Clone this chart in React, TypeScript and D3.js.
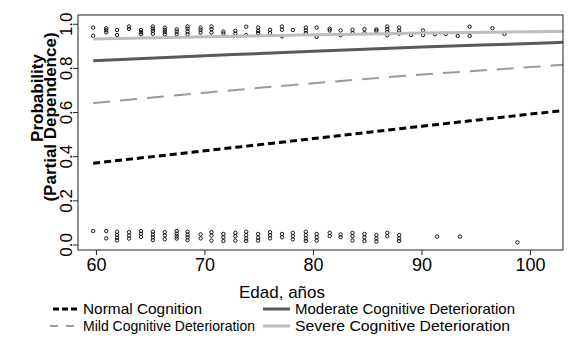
import React, { useEffect, useRef } from 'react';
import * as d3 from 'd3';

// x axis (age) and y axis (probability)
const ageTicks = [60, 70, 80, 90, 100];
const probTicks = [0, 0.2, 0.4, 0.6, 0.8, 1.0];

// partial dependence curves, read at these ages
const curveAges = [59.7, 70, 80, 90, 100, 103.5];
const normalCurve = [0.37, 0.427, 0.482, 0.538, 0.593, 0.612];
const mildCurve = [0.643, 0.69, 0.733, 0.772, 0.806, 0.818];
const moderateCurve = [0.835, 0.857, 0.878, 0.897, 0.913, 0.919];
const severeCurve = [0.933, 0.943, 0.952, 0.96, 0.966, 0.969];

// observed outcomes (jittered) near 1: [age, values]
const topBand: [number, number[]][] = [
  [59.7, [0.985, 0.948]],
  [60.9, [0.982, 0.973, 0.964]],
  [61.9, [0.974, 0.951]],
  [63.0, [0.99, 0.979]],
  [64.1, [0.974, 0.964, 0.955]],
  [65.2, [0.99, 0.98, 0.97, 0.957]],
  [66.3, [0.985, 0.975, 0.965, 0.955]],
  [67.4, [0.977, 0.967, 0.955]],
  [68.4, [0.99, 0.98, 0.967, 0.955]],
  [69.6, [0.985, 0.975, 0.962]],
  [70.6, [0.99, 0.978, 0.962]],
  [71.7, [0.967, 0.958]],
  [72.8, [0.97, 0.958]],
  [73.8, [0.989, 0.951]],
  [74.9, [0.985, 0.97, 0.96]],
  [76.0, [0.975, 0.96]],
  [77.1, [0.99, 0.975, 0.945]],
  [78.1, [0.974]],
  [79.3, [0.985, 0.972, 0.96]],
  [80.3, [0.985, 0.943]],
  [81.5, [0.98, 0.972]],
  [82.5, [0.972, 0.95]],
  [83.6, [0.975, 0.96]],
  [84.7, [0.978, 0.96]],
  [85.8, [0.977, 0.97]],
  [86.8, [0.99, 0.978, 0.965, 0.95]],
  [87.9, [0.985, 0.97, 0.958]],
  [89.0, [0.951]],
  [90.1, [0.972, 0.951]],
  [91.2, [0.955]],
  [92.2, [0.956]],
  [93.3, [0.947]],
  [94.4, [0.989, 0.947]],
  [96.5, [0.982]],
  [97.6, [0.956]],
];

// observed outcomes (jittered) near 0
const bottomBand: [number, number[]][] = [
  [59.7, [0.063]],
  [60.9, [0.063, 0.03]],
  [61.9, [0.06, 0.045, 0.033, 0.021]],
  [63.0, [0.058, 0.043, 0.029]],
  [64.1, [0.063, 0.051, 0.036]],
  [65.2, [0.06, 0.047, 0.035, 0.022]],
  [66.3, [0.058, 0.043, 0.026]],
  [67.4, [0.063, 0.051, 0.039, 0.029]],
  [68.4, [0.06, 0.047, 0.035, 0.022]],
  [69.6, [0.048, 0.03]],
  [70.6, [0.058, 0.043, 0.02]],
  [71.7, [0.05, 0.035, 0.018]],
  [72.8, [0.055, 0.04, 0.02]],
  [73.8, [0.06, 0.045, 0.03, 0.018]],
  [74.9, [0.05, 0.033, 0.02]],
  [76.0, [0.058, 0.045, 0.03]],
  [77.1, [0.05, 0.035]],
  [78.1, [0.055, 0.04, 0.025]],
  [79.3, [0.06, 0.045, 0.03, 0.018]],
  [80.3, [0.05, 0.035, 0.02]],
  [81.5, [0.055, 0.04]],
  [82.5, [0.048, 0.035]],
  [83.6, [0.055, 0.04, 0.02]],
  [84.7, [0.05, 0.035, 0.018]],
  [85.8, [0.045, 0.03, 0.016]],
  [86.8, [0.055, 0.04]],
  [87.9, [0.045, 0.03, 0.018]],
  [91.4, [0.038]],
  [93.5, [0.038]],
  [98.8, [0.012]],
];

const seriesNames = [
  'Normal Cognition',
  'Mild Cognitive Deterioration',
  'Moderate Cognitive Deterioration',
  'Severe Cognitive Deterioration',
];

const App = () => {
  const chartRef = useRef<SVGSVGElement>(null);

  useEffect(() => {
    document.body.style.margin = '0';

    const width = 587;
    const height = 340;
    const left = 78;
    const right = 563;
    const top = 15;
    const bottom = 250;
    const font = '"Liberation Sans", Arial, Helvetica, sans-serif';

    const x = d3.scaleLinear().domain([58.3, 103.0]).range([left, right]);
    const y = d3.scaleLinear().domain([-0.0227, 1.042]).range([bottom, top]);

    const svg = d3.select(chartRef.current)
      .attr('width', width)
      .attr('height', height)
      .style('display', 'block');

    svg.selectAll('*').remove();

    svg.append('rect').attr('width', width).attr('height', height).attr('fill', '#fff');

    svg.append('clipPath').attr('id', 'plotclip')
      .append('rect')
      .attr('x', left).attr('y', top)
      .attr('width', right - left).attr('height', bottom - top);

    // points
    const pts: [number, number][] = [];
    [...topBand, ...bottomBand].forEach(([age, vals]) => {
      vals.forEach(v => pts.push([age, v]));
    });
    svg.append('g')
      .selectAll('circle')
      .data(pts)
      .enter()
      .append('circle')
      .attr('cx', d => x(d[0]))
      .attr('cy', d => y(d[1]))
      .attr('r', 1.7)
      .attr('fill', 'none')
      .attr('stroke', '#000')
      .attr('stroke-width', 0.9);

    // curves
    const styles = [
      { values: normalCurve, color: '#000000', width: 3, dash: '7,4' },
      { values: mildCurve, color: '#9a9a9a', width: 2, dash: '17,10' },
      { values: moderateCurve, color: '#5a5a5a', width: 3, dash: null },
      { values: severeCurve, color: '#bdbdbd', width: 3, dash: null },
    ];

    const line = d3.line<number>()
      .x((d, i) => x(curveAges[i]))
      .y(d => y(d))
      .curve(d3.curveMonotoneX);

    const lines = svg.append('g').attr('clip-path', 'url(#plotclip)');
    styles.forEach(s => {
      lines.append('path')
        .attr('d', line(s.values))
        .attr('fill', 'none')
        .attr('stroke', s.color)
        .attr('stroke-width', s.width)
        .attr('stroke-dasharray', s.dash);
    });

    // box
    svg.append('rect')
      .attr('x', left).attr('y', top)
      .attr('width', right - left).attr('height', bottom - top)
      .attr('fill', 'none')
      .attr('stroke', '#222')
      .attr('stroke-width', 1);

    // x axis
    const xAxis = svg.append('g');
    xAxis.selectAll('line')
      .data(ageTicks)
      .enter()
      .append('line')
      .attr('x1', d => x(d)).attr('x2', d => x(d))
      .attr('y1', bottom).attr('y2', bottom + 5)
      .attr('stroke', '#222');
    xAxis.selectAll('text')
      .data(ageTicks)
      .enter()
      .append('text')
      .attr('x', d => x(d))
      .attr('y', 271)
      .attr('text-anchor', 'middle')
      .style('font-family', font)
      .style('font-size', '18px')
      .text(d => d);

    svg.append('text')
      .attr('x', 282)
      .attr('y', 298)
      .attr('text-anchor', 'middle')
      .style('font-family', font)
      .style('font-size', '17px')
      .text('Edad, años');

    // y axis
    const yAxis = svg.append('g');
    yAxis.selectAll('line')
      .data(probTicks)
      .enter()
      .append('line')
      .attr('x1', left - 5).attr('x2', left)
      .attr('y1', d => y(d)).attr('y2', d => y(d))
      .attr('stroke', '#222');
    yAxis.selectAll('text')
      .data(probTicks)
      .enter()
      .append('text')
      .attr('transform', d => `translate(72,${y(d)}) rotate(-90)`)
      .attr('text-anchor', 'middle')
      .style('font-family', font)
      .style('font-size', '17px')
      .text(d => d3.format('.1f')(d));

    svg.append('text')
      .attr('transform', 'translate(43,98) rotate(-90)')
      .attr('text-anchor', 'middle')
      .style('font-family', font)
      .style('font-size', '17px')
      .style('font-weight', 'bold')
      .text('Probability');
    svg.append('text')
      .attr('transform', 'translate(56,117) rotate(-90)')
      .attr('text-anchor', 'middle')
      .style('font-family', font)
      .style('font-size', '17px')
      .style('font-weight', 'bold')
      .text('(Partial Dependence)');

    // legend
    const legendPos = [
      { lx: 53, tx: 83, ly: 309, w: 119 },
      { lx: 50, tx: 83, ly: 326, w: 172 },
      { lx: 263, tx: 295, ly: 309, w: 220 },
      { lx: 263, tx: 295, ly: 326, w: 215 },
    ];
    const legendDash = ['6,3', '8,8', null, null];
    const legend = svg.append('g');
    seriesNames.forEach((name, i) => {
      const p = legendPos[i];
      const s = styles[i];
      legend.append('line')
        .attr('x1', p.lx).attr('x2', i === 1 ? 78 : p.lx + 27)
        .attr('y1', p.ly).attr('y2', p.ly)
        .attr('stroke', s.color)
        .attr('stroke-width', s.width)
        .attr('stroke-dasharray', legendDash[i]);
      legend.append('text')
        .attr('x', p.tx)
        .attr('y', p.ly + 5)
        .attr('textLength', p.w)
        .attr('lengthAdjust', 'spacingAndGlyphs')
        .style('font-family', font)
        .style('font-size', '14.5px')
        .text(name);
    });
  }, []);

  return <svg ref={chartRef}></svg>;
};

export default App;
